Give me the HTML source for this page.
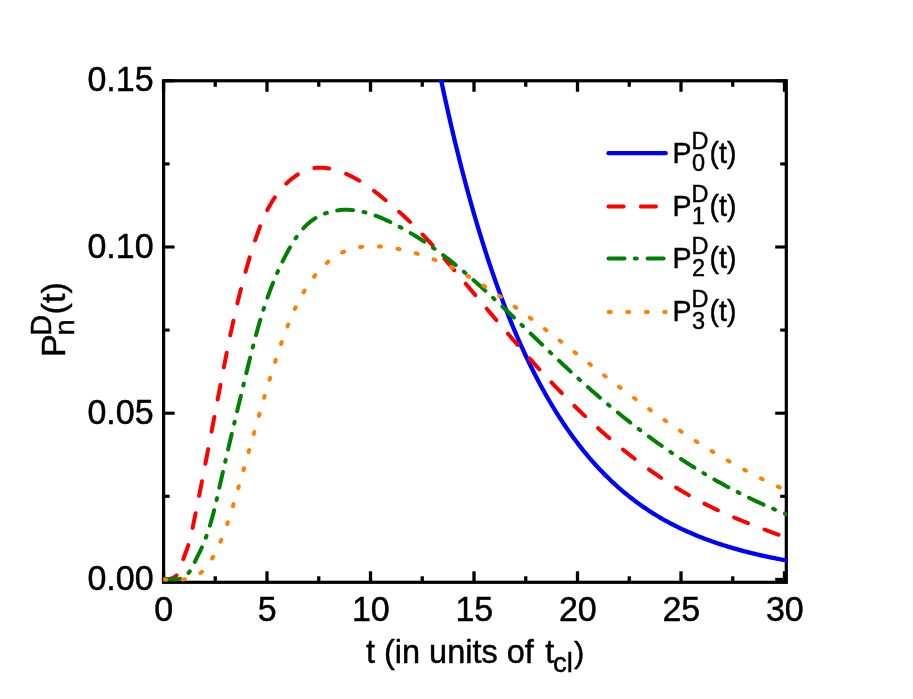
<!DOCTYPE html>
<html><head><meta charset="utf-8"><title>chart</title>
<style>
html,body{margin:0;padding:0;background:#fff;}
svg{display:block;}
text{font-family:"Liberation Sans",sans-serif;fill:#000;stroke:#000;stroke-width:0.45px;stroke-linejoin:round;}
svg{will-change:transform;}
</style></head><body>
<svg width="913" height="699" viewBox="0 0 913 699">
<rect width="913" height="699" fill="#fff"/>
<clipPath id="c"><rect x="163.2" y="79.95" width="623.9999999999999" height="502.04999999999995"/></clipPath>
<g stroke="#000" stroke-width="3.3" stroke-linecap="butt">
<line x1="163.50" y1="582.3" x2="163.50" y2="571.30"/><line x1="163.50" y1="80.75" x2="163.50" y2="91.75"/><line x1="215.25" y1="582.3" x2="215.25" y2="576.30"/><line x1="215.25" y1="80.75" x2="215.25" y2="86.75"/><line x1="267.00" y1="582.3" x2="267.00" y2="571.30"/><line x1="267.00" y1="80.75" x2="267.00" y2="91.75"/><line x1="318.75" y1="582.3" x2="318.75" y2="576.30"/><line x1="318.75" y1="80.75" x2="318.75" y2="86.75"/><line x1="370.50" y1="582.3" x2="370.50" y2="571.30"/><line x1="370.50" y1="80.75" x2="370.50" y2="91.75"/><line x1="422.25" y1="582.3" x2="422.25" y2="576.30"/><line x1="422.25" y1="80.75" x2="422.25" y2="86.75"/><line x1="474.00" y1="582.3" x2="474.00" y2="571.30"/><line x1="474.00" y1="80.75" x2="474.00" y2="91.75"/><line x1="525.75" y1="582.3" x2="525.75" y2="576.30"/><line x1="525.75" y1="80.75" x2="525.75" y2="86.75"/><line x1="577.50" y1="582.3" x2="577.50" y2="571.30"/><line x1="577.50" y1="80.75" x2="577.50" y2="91.75"/><line x1="629.25" y1="582.3" x2="629.25" y2="576.30"/><line x1="629.25" y1="80.75" x2="629.25" y2="86.75"/><line x1="681.00" y1="582.3" x2="681.00" y2="571.30"/><line x1="681.00" y1="80.75" x2="681.00" y2="91.75"/><line x1="732.75" y1="582.3" x2="732.75" y2="576.30"/><line x1="732.75" y1="80.75" x2="732.75" y2="86.75"/><line x1="784.50" y1="582.3" x2="784.50" y2="571.30"/><line x1="784.50" y1="80.75" x2="784.50" y2="91.75"/>
</g>
<g stroke="#000" stroke-width="3.1" stroke-linecap="butt">
<line x1="163.6" y1="579.40" x2="174.60" y2="579.40"/><line x1="786.3" y1="579.40" x2="775.20" y2="579.40"/><line x1="163.6" y1="496.30" x2="169.60" y2="496.30"/><line x1="786.3" y1="496.30" x2="780.20" y2="496.30"/><line x1="163.6" y1="413.20" x2="174.60" y2="413.20"/><line x1="786.3" y1="413.20" x2="775.20" y2="413.20"/><line x1="163.6" y1="330.10" x2="169.60" y2="330.10"/><line x1="786.3" y1="330.10" x2="780.20" y2="330.10"/><line x1="163.6" y1="247.00" x2="174.60" y2="247.00"/><line x1="786.3" y1="247.00" x2="775.20" y2="247.00"/><line x1="163.6" y1="163.90" x2="169.60" y2="163.90"/><line x1="786.3" y1="163.90" x2="780.20" y2="163.90"/><line x1="163.6" y1="80.80" x2="174.60" y2="80.80"/><line x1="786.3" y1="80.80" x2="775.20" y2="80.80"/>
</g>
<rect x="163.6" y="80.75" width="622.6999999999999" height="501.54999999999995" fill="none" stroke="#000" stroke-width="3.2"/>
<g clip-path="url(#c)">
<path d="M440.88,79.16 L442.62,87.32 L444.36,95.36 L446.10,103.26 L447.84,111.03 L449.58,118.68 L451.32,126.20 L453.05,133.60 L454.79,140.88 L456.53,148.04 L458.27,155.08 L460.01,162.01 L461.75,168.83 L463.49,175.53 L465.23,182.13 L466.97,188.62 L468.71,195.00 L470.45,201.28 L472.19,207.46 L473.93,213.54 L475.66,219.51 L477.40,225.40 L479.14,231.18 L480.88,236.87 L482.62,242.47 L484.36,247.98 L486.10,253.40 L487.84,258.73 L489.58,263.98 L491.32,269.14 L493.06,274.22 L494.80,279.21 L496.53,284.12 L498.27,288.96 L500.01,293.71 L501.75,298.39 L503.49,302.99 L505.23,307.52 L506.97,311.98 L508.71,316.36 L510.45,320.67 L512.19,324.91 L513.93,329.09 L515.67,333.20 L517.41,337.24 L519.14,341.21 L520.88,345.12 L522.62,348.97 L524.36,352.75 L526.10,356.48 L527.84,360.14 L529.58,363.75 L531.32,367.29 L533.06,370.78 L534.80,374.21 L536.54,377.59 L538.28,380.92 L540.02,384.18 L541.75,387.40 L543.49,390.57 L545.23,393.68 L546.97,396.74 L548.71,399.76 L550.45,402.72 L552.19,405.64 L553.93,408.51 L555.67,411.33 L557.41,414.11 L559.15,416.84 L560.89,419.53 L562.63,422.17 L564.36,424.77 L566.10,427.33 L567.84,429.85 L569.58,432.32 L571.32,434.76 L573.06,437.16 L574.80,439.51 L576.54,441.83 L578.28,444.11 L580.02,446.35 L581.76,448.56 L583.50,450.73 L585.23,452.86 L586.97,454.96 L588.71,457.03 L590.45,459.06 L592.19,461.05 L593.93,463.02 L595.67,464.95 L597.41,466.85 L599.15,468.72 L600.89,470.55 L602.63,472.36 L604.37,474.13 L606.11,475.88 L607.84,477.60 L609.58,479.28 L611.32,480.94 L613.06,482.57 L614.80,484.18 L616.54,485.76 L618.28,487.31 L620.02,488.83 L621.76,490.33 L623.50,491.80 L625.24,493.25 L626.98,494.67 L628.72,496.07 L630.45,497.45 L632.19,498.80 L633.93,500.13 L635.67,501.44 L637.41,502.72 L639.15,503.98 L640.89,505.22 L642.63,506.44 L644.37,507.64 L646.11,508.82 L647.85,509.98 L649.59,511.12 L651.33,512.23 L653.06,513.33 L654.80,514.41 L656.54,515.48 L658.28,516.52 L660.02,517.55 L661.76,518.56 L663.50,519.55 L665.24,520.52 L666.98,521.48 L668.72,522.42 L670.46,523.35 L672.20,524.26 L673.93,525.16 L675.67,526.04 L677.41,526.90 L679.15,527.75 L680.89,528.59 L682.63,529.41 L684.37,530.22 L686.11,531.01 L687.85,531.79 L689.59,532.56 L691.33,533.32 L693.07,534.06 L694.81,534.79 L696.54,535.51 L698.28,536.21 L700.02,536.91 L701.76,537.59 L703.50,538.27 L705.24,538.93 L706.98,539.58 L708.72,540.22 L710.46,540.85 L712.20,541.47 L713.94,542.07 L715.68,542.67 L717.42,543.26 L719.15,543.84 L720.89,544.41 L722.63,544.97 L724.37,545.53 L726.11,546.07 L727.85,546.60 L729.59,547.13 L731.33,547.65 L733.07,548.16 L734.81,548.66 L736.55,549.15 L738.29,549.64 L740.03,550.12 L741.76,550.59 L743.50,551.05 L745.24,551.50 L746.98,551.95 L748.72,552.39 L750.46,552.83 L752.20,553.25 L753.94,553.67 L755.68,554.09 L757.42,554.49 L759.16,554.90 L760.90,555.29 L762.63,555.68 L764.37,556.06 L766.11,556.44 L767.85,556.81 L769.59,557.17 L771.33,557.53 L773.07,557.88 L774.81,558.23 L776.55,558.57 L778.29,558.91 L780.03,559.24 L781.77,559.56 L783.51,559.88 L785.24,560.20 L786.98,560.51" fill="none" stroke="#0000ff" stroke-width="4.3" stroke-linecap="round" stroke-linejoin="round" />
<path d="M163.49,579.37 L165.60,579.32 L167.78,579.18 L169.96,578.86 L172.06,578.29 L173.98,577.42 L175.70,576.21 L177.18,574.73 L178.43,573.02 L179.43,571.12 L180.25,569.10 L180.93,567.02 L181.56,564.94 L182.16,562.88 L182.78,560.82 L183.44,558.79 L184.15,556.76 L184.88,554.75 L185.63,552.74 L186.38,550.73 L187.12,548.71 L187.83,546.69 L188.51,544.66 L189.13,542.61 L189.71,540.55 L190.25,538.48 L190.75,536.40 L191.23,534.31 L191.68,532.21 L192.12,530.11 L192.56,528.01 L192.99,525.90 L193.43,523.80 L193.86,521.70 L194.29,519.59 L194.72,517.49 L195.15,515.39 L195.58,513.28 L196.00,511.18 L196.43,509.07 L196.85,506.97 L197.28,504.86 L197.70,502.76 L198.12,500.65 L198.54,498.55 L198.96,496.44 L199.38,494.34 L199.80,492.23 L200.21,490.13 L200.63,488.02 L201.05,485.91 L201.46,483.81 L201.88,481.70 L202.29,479.59 L202.70,477.49 L203.11,475.38 L203.52,473.27 L203.94,471.17 L204.35,469.06 L204.75,466.95 L205.16,464.85 L205.57,462.74 L205.98,460.63 L206.39,458.52 L206.79,456.42 L207.20,454.31 L207.61,452.20 L208.01,450.09 L208.42,447.98 L208.82,445.88 L209.22,443.77 L209.63,441.66 L210.03,439.55 L210.44,437.44 L210.84,435.34 L211.24,433.23 L211.64,431.12 L212.05,429.01 L212.45,426.90 L212.85,424.80 L213.25,422.69 L213.65,420.58 L214.06,418.47 L214.46,416.36 L214.86,414.26 L215.26,412.15 L215.66,410.04 L216.06,407.93 L216.46,405.83 L216.87,403.72 L217.27,401.61 L217.67,399.50 L218.07,397.40 L218.47,395.29 L218.88,393.18 L219.28,391.07 L219.68,388.97 L220.08,386.86 L220.49,384.75 L220.89,382.65 L221.29,380.54 L221.70,378.43 L222.10,376.33 L222.51,374.22 L222.91,372.12 L223.32,370.01 L223.73,367.90 L224.14,365.80 L224.55,363.69 L224.96,361.59 L225.37,359.49 L225.79,357.38 L226.20,355.28 L226.62,353.18 L227.04,351.07 L227.46,348.97 L227.89,346.87 L228.31,344.77 L228.74,342.67 L229.17,340.57 L229.61,338.47 L230.05,336.37 L230.48,334.27 L230.93,332.18 L231.37,330.08 L231.82,327.98 L232.27,325.89 L232.73,323.79 L233.19,321.70 L233.65,319.61 L234.11,317.52 L234.58,315.42 L235.06,313.33 L235.54,311.24 L236.02,309.15 L236.50,307.07 L236.99,304.98 L237.49,302.89 L237.99,300.81 L238.49,298.73 L239.00,296.64 L239.51,294.56 L240.03,292.48 L240.56,290.40 L241.09,288.32 L241.62,286.24 L242.16,284.17 L242.71,282.09 L243.26,280.02 L243.82,277.95 L244.38,275.87 L244.95,273.80 L245.52,271.74 L246.10,269.67 L246.69,267.60 L247.29,265.54 L247.89,263.47 L248.49,261.41 L249.11,259.35 L249.73,257.29 L250.36,255.23 L250.99,253.18 L251.64,251.12 L252.29,249.07 L252.95,247.02 L253.61,244.97 L254.28,242.92 L254.96,240.87 L255.65,238.83 L256.35,236.79 L257.06,234.75 L257.78,232.72 L258.52,230.69 L259.27,228.67 L260.03,226.65 L260.81,224.65 L261.62,222.65 L262.44,220.67 L263.28,218.70 L264.15,216.74 L265.04,214.79 L265.95,212.86 L266.89,210.94 L267.87,209.04 L268.87,207.16 L269.90,205.30 L270.96,203.45 L272.06,201.63 L273.19,199.83 L274.36,198.05 L275.56,196.29 L276.80,194.56 L278.09,192.85 L279.42,191.17 L280.78,189.52 L282.20,187.90 L283.66,186.30 L285.16,184.74 L286.71,183.21 L288.31,181.72 L289.95,180.28 L291.63,178.88 L293.36,177.55 L295.12,176.27 L296.92,175.06 L298.75,173.92 L300.62,172.86 L302.52,171.88 L304.46,170.99 L306.42,170.20 L308.41,169.50 L310.43,168.91 L312.47,168.43 L314.54,168.06 L316.63,167.82 L318.74,167.68 L320.86,167.66 L322.99,167.74 L325.14,167.92 L327.28,168.19 L329.42,168.55 L331.57,168.98 L333.70,169.50 L335.82,170.08 L337.93,170.73 L340.02,171.44 L342.09,172.20 L344.14,173.02 L346.15,173.87 L348.14,174.76 L350.10,175.69 L352.02,176.66 L353.93,177.66 L355.80,178.69 L357.66,179.75 L359.49,180.85 L361.30,181.97 L363.09,183.12 L364.86,184.30 L366.61,185.50 L368.35,186.72 L370.07,187.96 L371.78,189.22 L373.48,190.50 L375.17,191.80 L376.85,193.11 L378.52,194.43 L380.18,195.77 L381.84,197.11 L383.49,198.47 L385.14,199.83 L386.79,201.20 L388.43,202.57 L390.07,203.96 L391.70,205.35 L393.34,206.75 L394.96,208.15 L396.58,209.57 L398.19,210.99 L399.80,212.42 L401.40,213.86 L402.99,215.30 L404.58,216.76 L406.15,218.22 L407.72,219.69 L409.28,221.17 L410.83,222.66 L412.37,224.16 L413.90,225.66 L415.42,227.17 L416.93,228.70 L418.44,230.23 L419.93,231.76 L421.42,233.31 L422.90,234.86 L424.38,236.41 L425.85,237.97 L427.31,239.54 L428.76,241.12 L430.21,242.70 L431.66,244.28 L433.09,245.87 L434.53,247.47 L435.95,249.07 L437.38,250.67 L438.80,252.28 L440.21,253.89 L441.62,255.50 L443.03,257.12 L444.44,258.74 L445.84,260.36 L447.24,261.99 L448.63,263.61 L450.03,265.24 L451.42,266.87 L452.81,268.50 L454.20,270.14 L455.59,271.77 L456.97,273.40 L458.36,275.04 L459.75,276.67 L461.13,278.31 L462.51,279.95 L463.90,281.59 L465.28,283.22 L466.66,284.86 L468.04,286.50 L469.42,288.14 L470.80,289.78 L472.18,291.42 L473.56,293.06 L474.94,294.70 L476.32,296.34 L477.70,297.98 L479.08,299.62 L480.46,301.26 L481.84,302.90 L483.22,304.54 L484.60,306.18 L485.98,307.82 L487.36,309.45 L488.74,311.09 L490.12,312.73 L491.51,314.37 L492.89,316.00 L494.27,317.64 L495.66,319.27 L497.04,320.91 L498.43,322.54 L499.82,324.17 L501.21,325.81 L502.60,327.44 L503.99,329.07 L505.38,330.69 L506.77,332.32 L508.17,333.95 L509.56,335.57 L510.96,337.20 L512.36,338.82 L513.76,340.44 L515.17,342.06 L516.57,343.68 L517.98,345.29 L519.39,346.91 L520.80,348.52 L522.21,350.13 L523.63,351.74 L525.05,353.35 L526.47,354.95 L527.89,356.55 L529.31,358.15 L530.74,359.75 L532.17,361.35 L533.60,362.95 L535.04,364.54 L536.48,366.13 L537.92,367.72 L539.36,369.30 L540.81,370.88 L542.26,372.46 L543.71,374.04 L545.17,375.62 L546.63,377.19 L548.09,378.76 L549.55,380.32 L551.02,381.89 L552.50,383.45 L553.97,385.01 L555.45,386.56 L556.94,388.11 L558.43,389.66 L559.92,391.21 L561.41,392.75 L562.91,394.29 L564.41,395.82 L565.92,397.35 L567.43,398.88 L568.94,400.40 L570.46,401.92 L571.98,403.44 L573.51,404.95 L575.03,406.46 L576.57,407.96 L578.11,409.46 L579.65,410.96 L581.19,412.45 L582.74,413.94 L584.29,415.42 L585.85,416.90 L587.41,418.37 L588.98,419.84 L590.55,421.31 L592.12,422.76 L593.70,424.22 L595.29,425.67 L596.87,427.11 L598.47,428.55 L600.06,429.99 L601.66,431.42 L603.27,432.84 L604.88,434.26 L606.49,435.67 L608.11,437.08 L609.73,438.48 L611.36,439.88 L612.99,441.27 L614.63,442.65 L616.27,444.03 L617.92,445.40 L619.57,446.77 L621.23,448.13 L622.89,449.49 L624.55,450.84 L626.22,452.18 L627.90,453.52 L629.58,454.84 L631.26,456.17 L632.95,457.48 L634.65,458.79 L636.35,460.10 L638.06,461.39 L639.77,462.68 L641.48,463.97 L643.20,465.24 L644.93,466.51 L646.66,467.77 L648.40,469.03 L650.14,470.27 L651.88,471.51 L653.64,472.75 L655.39,473.97 L657.16,475.19 L658.93,476.40 L660.70,477.60 L662.48,478.79 L664.26,479.98 L666.05,481.16 L667.85,482.33 L669.65,483.49 L671.46,484.64 L673.27,485.79 L675.09,486.93 L676.91,488.05 L678.74,489.17 L680.57,490.29 L682.41,491.39 L684.26,492.48 L686.11,493.57 L687.96,494.64 L689.82,495.71 L691.69,496.76 L693.56,497.81 L695.44,498.85 L697.32,499.87 L699.20,500.89 L701.10,501.90 L703.00,502.90 L704.90,503.89 L706.81,504.86 L708.72,505.83 L710.64,506.79 L712.56,507.73 L714.49,508.67 L716.43,509.60 L718.37,510.51 L720.31,511.41 L722.26,512.31 L724.22,513.19 L726.18,514.06 L728.14,514.93 L730.11,515.78 L732.08,516.62 L734.06,517.46 L736.04,518.29 L738.02,519.11 L740.00,519.93 L741.99,520.74 L743.98,521.54 L745.98,522.33 L747.97,523.12 L749.97,523.91 L751.97,524.69 L753.97,525.46 L755.98,526.23 L757.98,527.00 L759.98,527.76 L761.99,528.53 L764.00,529.28 L766.00,530.04 L768.01,530.80 L770.01,531.55 L772.02,532.30 L774.03,533.05 L776.03,533.80 L778.03,534.55 L780.04,535.31 L782.04,536.06 L784.04,536.81 L786.03,537.57" fill="none" stroke="#ff0000" stroke-width="4.0" stroke-linecap="round" stroke-linejoin="round" stroke-dasharray="14.9 17.8" stroke-dashoffset="0.87"/>
<path d="M163.50,579.39 L165.40,579.23 L167.36,579.20 L169.37,579.25 L171.41,579.32 L173.45,579.38 L175.49,579.35 L177.48,579.20 L179.43,578.86 L181.31,578.30 L183.10,577.48 L184.78,576.44 L186.34,575.21 L187.77,573.83 L189.04,572.31 L190.19,570.69 L191.23,568.99 L192.19,567.22 L193.09,565.42 L193.97,563.60 L194.85,561.79 L195.74,559.99 L196.62,558.21 L197.51,556.43 L198.39,554.66 L199.27,552.88 L200.13,551.11 L200.97,549.33 L201.79,547.54 L202.59,545.74 L203.36,543.93 L204.12,542.11 L204.85,540.29 L205.55,538.45 L206.24,536.60 L206.91,534.75 L207.56,532.88 L208.19,531.01 L208.81,529.13 L209.41,527.24 L209.99,525.35 L210.56,523.45 L211.11,521.55 L211.65,519.64 L212.18,517.72 L212.70,515.80 L213.20,513.88 L213.70,511.95 L214.18,510.01 L214.66,508.08 L215.13,506.14 L215.59,504.20 L216.05,502.25 L216.50,500.31 L216.95,498.36 L217.39,496.41 L217.83,494.46 L218.27,492.51 L218.71,490.57 L219.14,488.62 L219.58,486.67 L220.02,484.72 L220.45,482.78 L220.89,480.83 L221.33,478.89 L221.77,476.95 L222.21,475.01 L222.65,473.07 L223.10,471.13 L223.54,469.19 L223.98,467.25 L224.43,465.31 L224.87,463.38 L225.32,461.44 L225.76,459.51 L226.21,457.58 L226.66,455.64 L227.10,453.71 L227.55,451.78 L228.00,449.85 L228.45,447.92 L228.90,445.99 L229.36,444.06 L229.81,442.13 L230.26,440.20 L230.71,438.27 L231.17,436.35 L231.62,434.42 L232.08,432.49 L232.53,430.56 L232.99,428.64 L233.44,426.71 L233.90,424.79 L234.36,422.86 L234.82,420.94 L235.27,419.01 L235.73,417.09 L236.19,415.16 L236.65,413.24 L237.11,411.31 L237.58,409.39 L238.04,407.46 L238.50,405.54 L238.96,403.62 L239.43,401.69 L239.89,399.77 L240.35,397.84 L240.82,395.92 L241.28,393.99 L241.75,392.07 L242.21,390.14 L242.68,388.21 L243.15,386.29 L243.61,384.36 L244.08,382.44 L244.55,380.51 L245.02,378.58 L245.48,376.65 L245.95,374.72 L246.42,372.80 L246.89,370.87 L247.36,368.94 L247.83,367.01 L248.31,365.08 L248.78,363.15 L249.26,361.22 L249.73,359.29 L250.21,357.36 L250.69,355.43 L251.18,353.50 L251.66,351.57 L252.15,349.64 L252.65,347.72 L253.14,345.79 L253.64,343.87 L254.15,341.94 L254.65,340.02 L255.16,338.10 L255.68,336.18 L256.20,334.26 L256.73,332.34 L257.26,330.43 L257.79,328.51 L258.33,326.60 L258.88,324.69 L259.43,322.79 L259.99,320.88 L260.56,318.98 L261.13,317.08 L261.71,315.18 L262.30,313.28 L262.89,311.39 L263.49,309.50 L264.10,307.61 L264.71,305.73 L265.34,303.85 L265.97,301.97 L266.61,300.09 L267.26,298.22 L267.92,296.36 L268.59,294.49 L269.27,292.63 L269.96,290.77 L270.65,288.92 L271.36,287.07 L272.08,285.23 L272.81,283.39 L273.55,281.55 L274.30,279.72 L275.06,277.89 L275.83,276.07 L276.62,274.25 L277.41,272.44 L278.22,270.63 L279.04,268.82 L279.87,267.03 L280.72,265.23 L281.58,263.44 L282.45,261.66 L283.34,259.88 L284.23,258.11 L285.15,256.35 L286.07,254.59 L287.01,252.83 L287.97,251.08 L288.94,249.34 L289.92,247.61 L290.93,245.88 L291.94,244.16 L292.98,242.45 L294.04,240.77 L295.13,239.09 L296.24,237.44 L297.37,235.82 L298.54,234.22 L299.74,232.65 L300.97,231.11 L302.24,229.60 L303.54,228.14 L304.88,226.71 L306.27,225.33 L307.69,223.99 L309.17,222.70 L310.68,221.46 L312.25,220.28 L313.87,219.15 L315.54,218.08 L317.27,217.07 L319.04,216.13 L320.86,215.24 L322.72,214.43 L324.62,213.67 L326.54,212.98 L328.49,212.36 L330.46,211.80 L332.44,211.31 L334.43,210.89 L336.43,210.53 L338.42,210.24 L340.41,210.02 L342.39,209.87 L344.37,209.78 L346.34,209.75 L348.30,209.79 L350.26,209.88 L352.21,210.03 L354.15,210.23 L356.09,210.49 L358.02,210.79 L359.94,211.15 L361.86,211.55 L363.77,211.99 L365.67,212.48 L367.57,213.01 L369.46,213.58 L371.34,214.18 L373.21,214.82 L375.08,215.49 L376.94,216.19 L378.79,216.92 L380.63,217.68 L382.47,218.46 L384.30,219.27 L386.11,220.09 L387.92,220.93 L389.73,221.79 L391.52,222.67 L393.31,223.56 L395.08,224.46 L396.85,225.37 L398.61,226.30 L400.37,227.23 L402.11,228.18 L403.85,229.15 L405.58,230.12 L407.30,231.10 L409.01,232.10 L410.72,233.11 L412.42,234.12 L414.11,235.15 L415.79,236.19 L417.47,237.24 L419.14,238.30 L420.80,239.37 L422.46,240.45 L424.11,241.54 L425.75,242.64 L427.39,243.75 L429.02,244.86 L430.65,245.99 L432.26,247.13 L433.88,248.27 L435.48,249.42 L437.08,250.58 L438.68,251.75 L440.27,252.93 L441.85,254.12 L443.43,255.31 L445.00,256.51 L446.57,257.72 L448.13,258.93 L449.69,260.15 L451.24,261.38 L452.79,262.62 L454.33,263.86 L455.87,265.11 L457.40,266.36 L458.93,267.62 L460.46,268.89 L461.98,270.16 L463.49,271.44 L465.00,272.72 L466.51,274.01 L468.02,275.30 L469.52,276.60 L471.02,277.90 L472.51,279.20 L474.00,280.51 L475.49,281.83 L476.97,283.15 L478.45,284.47 L479.93,285.80 L481.40,287.13 L482.87,288.46 L484.34,289.79 L485.81,291.13 L487.27,292.47 L488.74,293.82 L490.19,295.16 L491.65,296.51 L493.11,297.86 L494.56,299.21 L496.01,300.57 L497.46,301.92 L498.91,303.28 L500.35,304.64 L501.80,306.00 L503.24,307.36 L504.68,308.72 L506.12,310.09 L507.56,311.45 L509.00,312.82 L510.43,314.19 L511.87,315.56 L513.30,316.93 L514.73,318.30 L516.17,319.67 L517.60,321.04 L519.03,322.42 L520.46,323.79 L521.89,325.16 L523.31,326.54 L524.74,327.91 L526.17,329.28 L527.60,330.66 L529.03,332.03 L530.45,333.41 L531.88,334.78 L533.31,336.16 L534.74,337.53 L536.17,338.91 L537.59,340.28 L539.02,341.65 L540.45,343.03 L541.88,344.40 L543.31,345.77 L544.74,347.14 L546.18,348.51 L547.61,349.88 L549.04,351.25 L550.48,352.62 L551.91,353.98 L553.35,355.35 L554.79,356.71 L556.22,358.07 L557.67,359.43 L559.11,360.79 L560.55,362.15 L562.00,363.51 L563.44,364.86 L564.89,366.21 L566.34,367.56 L567.79,368.91 L569.25,370.26 L570.70,371.61 L572.16,372.95 L573.62,374.29 L575.09,375.63 L576.55,376.96 L578.02,378.30 L579.49,379.63 L580.96,380.95 L582.44,382.28 L583.92,383.60 L585.40,384.92 L586.88,386.24 L588.37,387.56 L589.85,388.87 L591.34,390.18 L592.84,391.48 L594.33,392.79 L595.83,394.09 L597.33,395.38 L598.84,396.68 L600.34,397.97 L601.85,399.26 L603.37,400.54 L604.88,401.83 L606.40,403.11 L607.92,404.38 L609.44,405.65 L610.97,406.92 L612.49,408.19 L614.03,409.45 L615.56,410.71 L617.10,411.97 L618.64,413.22 L620.18,414.47 L621.72,415.71 L623.27,416.95 L624.82,418.19 L626.37,419.43 L627.93,420.66 L629.49,421.89 L631.05,423.11 L632.61,424.33 L634.18,425.54 L635.75,426.76 L637.33,427.96 L638.90,429.17 L640.48,430.37 L642.06,431.56 L643.65,432.76 L645.23,433.94 L646.82,435.13 L648.42,436.31 L650.01,437.48 L651.61,438.65 L653.22,439.82 L654.82,440.98 L656.43,442.14 L658.04,443.30 L659.66,444.45 L661.27,445.59 L662.89,446.73 L664.52,447.87 L666.14,449.00 L667.77,450.13 L669.41,451.25 L671.04,452.37 L672.68,453.48 L674.32,454.59 L675.97,455.69 L677.61,456.79 L679.26,457.89 L680.92,458.98 L682.58,460.06 L684.24,461.14 L685.90,462.22 L687.57,463.29 L689.24,464.35 L690.91,465.41 L692.59,466.46 L694.27,467.51 L695.95,468.56 L697.63,469.60 L699.32,470.63 L701.02,471.66 L702.71,472.68 L704.41,473.70 L706.11,474.71 L707.82,475.72 L709.53,476.72 L711.24,477.72 L712.95,478.71 L714.67,479.69 L716.39,480.67 L718.12,481.64 L719.85,482.61 L721.58,483.57 L723.31,484.53 L725.05,485.48 L726.79,486.43 L728.54,487.37 L730.29,488.30 L732.04,489.23 L733.79,490.15 L735.55,491.06 L737.31,491.97 L739.08,492.88 L740.85,493.77 L742.62,494.66 L744.40,495.55 L746.18,496.43 L747.96,497.30 L749.75,498.16 L751.53,499.02 L753.33,499.88 L755.12,500.72 L756.93,501.57 L758.73,502.40 L760.54,503.23 L762.35,504.05 L764.16,504.86 L765.98,505.67 L767.80,506.47 L769.63,507.27 L771.45,508.05 L773.29,508.84 L775.12,509.61 L776.96,510.38 L778.81,511.14 L780.65,511.89 L782.50,512.64 L784.36,513.38 L786.21,514.11" fill="none" stroke="#008000" stroke-width="4.0" stroke-linecap="round" stroke-linejoin="round" stroke-dasharray="16 10.5 2 10.71" stroke-dashoffset="-0.62"/>
<path d="M163.48,579.38 L165.18,579.57 L166.93,579.74 L168.72,579.87 L170.54,579.97 L172.39,580.03 L174.26,580.05 L176.15,580.02 L178.04,579.94 L179.94,579.81 L181.84,579.62 L183.72,579.37 L185.59,579.06 L187.44,578.68 L189.26,578.23 L191.05,577.70 L192.80,577.10 L194.50,576.42 L196.14,575.65 L197.73,574.80 L199.26,573.85 L200.71,572.81 L202.10,571.67 L203.41,570.45 L204.67,569.16 L205.86,567.80 L207.00,566.37 L208.10,564.89 L209.14,563.37 L210.15,561.81 L211.13,560.23 L212.07,558.62 L212.99,557.00 L213.89,555.38 L214.76,553.74 L215.61,552.10 L216.45,550.45 L217.26,548.79 L218.05,547.13 L218.82,545.46 L219.58,543.78 L220.32,542.10 L221.04,540.41 L221.74,538.72 L222.43,537.02 L223.11,535.32 L223.77,533.61 L224.42,531.90 L225.05,530.18 L225.68,528.46 L226.29,526.73 L226.89,525.00 L227.48,523.27 L228.07,521.54 L228.64,519.80 L229.21,518.06 L229.77,516.32 L230.32,514.57 L230.87,512.82 L231.41,511.08 L231.95,509.33 L232.48,507.58 L233.01,505.82 L233.54,504.07 L234.07,502.32 L234.60,500.57 L235.12,498.81 L235.64,497.06 L236.17,495.31 L236.69,493.55 L237.20,491.80 L237.72,490.04 L238.24,488.29 L238.75,486.53 L239.26,484.78 L239.77,483.02 L240.28,481.26 L240.79,479.51 L241.30,477.75 L241.81,475.99 L242.31,474.23 L242.82,472.47 L243.32,470.72 L243.83,468.96 L244.33,467.20 L244.83,465.44 L245.34,463.68 L245.84,461.92 L246.34,460.16 L246.84,458.40 L247.34,456.64 L247.84,454.88 L248.34,453.12 L248.83,451.36 L249.33,449.60 L249.83,447.83 L250.33,446.07 L250.83,444.31 L251.33,442.55 L251.83,440.79 L252.32,439.03 L252.82,437.26 L253.32,435.50 L253.82,433.74 L254.32,431.98 L254.82,430.21 L255.32,428.45 L255.82,426.69 L256.33,424.93 L256.83,423.16 L257.33,421.40 L257.83,419.64 L258.34,417.87 L258.84,416.11 L259.35,414.35 L259.86,412.58 L260.36,410.82 L260.87,409.06 L261.38,407.29 L261.89,405.53 L262.41,403.77 L262.92,402.01 L263.44,400.24 L263.95,398.48 L264.47,396.72 L264.99,394.95 L265.51,393.19 L266.03,391.43 L266.56,389.67 L267.08,387.90 L267.61,386.14 L268.14,384.38 L268.67,382.62 L269.20,380.86 L269.74,379.11 L270.28,377.35 L270.82,375.59 L271.36,373.84 L271.90,372.08 L272.45,370.33 L273.00,368.58 L273.55,366.83 L274.10,365.08 L274.66,363.33 L275.22,361.59 L275.78,359.85 L276.35,358.11 L276.92,356.37 L277.49,354.63 L278.06,352.90 L278.64,351.16 L279.22,349.43 L279.81,347.71 L280.39,345.98 L280.98,344.26 L281.58,342.54 L282.18,340.82 L282.78,339.11 L283.39,337.40 L284.00,335.69 L284.62,333.99 L285.24,332.29 L285.87,330.59 L286.51,328.89 L287.16,327.20 L287.81,325.51 L288.48,323.83 L289.15,322.14 L289.83,320.46 L290.53,318.79 L291.23,317.12 L291.95,315.45 L292.68,313.78 L293.42,312.12 L294.17,310.46 L294.94,308.81 L295.73,307.16 L296.52,305.51 L297.34,303.87 L298.17,302.23 L299.01,300.60 L299.87,298.97 L300.75,297.34 L301.65,295.72 L302.57,294.10 L303.51,292.48 L304.46,290.87 L305.44,289.27 L306.43,287.67 L307.45,286.08 L308.49,284.50 L309.54,282.93 L310.62,281.38 L311.72,279.84 L312.83,278.32 L313.97,276.81 L315.13,275.32 L316.31,273.86 L317.51,272.42 L318.73,271.00 L319.97,269.61 L321.24,268.24 L322.52,266.90 L323.82,265.60 L325.15,264.32 L326.50,263.08 L327.87,261.88 L329.26,260.71 L330.67,259.58 L332.11,258.49 L333.57,257.44 L335.04,256.44 L336.55,255.47 L338.07,254.56 L339.61,253.69 L341.18,252.87 L342.77,252.11 L344.38,251.39 L346.02,250.73 L347.67,250.12 L349.34,249.56 L351.04,249.04 L352.75,248.57 L354.47,248.15 L356.22,247.78 L357.97,247.45 L359.74,247.16 L361.53,246.91 L363.33,246.70 L365.13,246.54 L366.95,246.41 L368.78,246.32 L370.61,246.26 L372.45,246.24 L374.30,246.25 L376.15,246.30 L378.01,246.38 L379.87,246.48 L381.73,246.62 L383.59,246.79 L385.45,246.98 L387.31,247.20 L389.17,247.44 L391.03,247.71 L392.88,248.00 L394.73,248.31 L396.58,248.64 L398.41,248.99 L400.24,249.36 L402.06,249.74 L403.88,250.15 L405.69,250.57 L407.49,251.00 L409.28,251.46 L411.06,251.93 L412.84,252.42 L414.62,252.93 L416.38,253.45 L418.14,253.98 L419.89,254.53 L421.63,255.10 L423.37,255.68 L425.11,256.28 L426.83,256.89 L428.55,257.52 L430.26,258.16 L431.97,258.82 L433.67,259.48 L435.37,260.16 L437.05,260.86 L438.74,261.57 L440.41,262.29 L442.09,263.02 L443.75,263.77 L445.41,264.52 L447.07,265.29 L448.72,266.07 L450.36,266.86 L452.00,267.67 L453.63,268.48 L455.26,269.31 L456.89,270.14 L458.51,270.99 L460.12,271.84 L461.73,272.71 L463.33,273.58 L464.93,274.46 L466.53,275.36 L468.12,276.26 L469.70,277.17 L471.29,278.09 L472.86,279.01 L474.44,279.95 L476.01,280.89 L477.57,281.84 L479.13,282.79 L480.69,283.76 L482.25,284.73 L483.80,285.70 L485.34,286.68 L486.89,287.67 L488.43,288.67 L489.96,289.67 L491.49,290.67 L493.02,291.68 L494.55,292.69 L496.07,293.71 L497.59,294.74 L499.11,295.76 L500.62,296.80 L502.14,297.83 L503.64,298.87 L505.15,299.91 L506.65,300.96 L508.15,302.01 L509.65,303.06 L511.15,304.12 L512.64,305.18 L514.13,306.24 L515.62,307.31 L517.11,308.37 L518.59,309.45 L520.07,310.52 L521.55,311.60 L523.03,312.68 L524.51,313.76 L525.98,314.85 L527.45,315.94 L528.92,317.03 L530.39,318.12 L531.86,319.21 L533.32,320.31 L534.79,321.41 L536.25,322.51 L537.71,323.62 L539.17,324.72 L540.62,325.83 L542.08,326.94 L543.54,328.05 L544.99,329.17 L546.44,330.28 L547.89,331.40 L549.34,332.51 L550.79,333.63 L552.24,334.75 L553.69,335.87 L555.14,337.00 L556.58,338.12 L558.03,339.25 L559.47,340.37 L560.92,341.50 L562.36,342.63 L563.80,343.76 L565.24,344.88 L566.69,346.01 L568.13,347.14 L569.57,348.28 L571.01,349.41 L572.45,350.54 L573.89,351.67 L575.33,352.80 L576.78,353.93 L578.22,355.06 L579.66,356.20 L581.10,357.33 L582.54,358.46 L583.98,359.59 L585.43,360.72 L586.87,361.85 L588.31,362.98 L589.76,364.11 L591.20,365.24 L592.64,366.37 L594.09,367.50 L595.54,368.62 L596.98,369.75 L598.43,370.88 L599.88,372.00 L601.33,373.12 L602.78,374.25 L604.23,375.37 L605.68,376.49 L607.13,377.61 L608.58,378.73 L610.03,379.85 L611.49,380.96 L612.94,382.08 L614.40,383.19 L615.85,384.31 L617.31,385.42 L618.77,386.53 L620.23,387.64 L621.69,388.75 L623.15,389.85 L624.62,390.96 L626.08,392.06 L627.54,393.16 L629.01,394.26 L630.48,395.36 L631.95,396.46 L633.41,397.55 L634.88,398.65 L636.36,399.74 L637.83,400.83 L639.30,401.92 L640.78,403.00 L642.26,404.09 L643.73,405.17 L645.21,406.25 L646.70,407.33 L648.18,408.40 L649.66,409.48 L651.15,410.55 L652.63,411.62 L654.12,412.69 L655.61,413.75 L657.10,414.82 L658.60,415.88 L660.09,416.93 L661.59,417.99 L663.08,419.04 L664.58,420.09 L666.08,421.14 L667.59,422.19 L669.09,423.23 L670.60,424.27 L672.10,425.31 L673.61,426.34 L675.12,427.38 L676.64,428.41 L678.15,429.43 L679.67,430.46 L681.19,431.48 L682.71,432.49 L684.23,433.51 L685.75,434.52 L687.28,435.53 L688.81,436.53 L690.34,437.54 L691.87,438.54 L693.41,439.53 L694.94,440.52 L696.48,441.51 L698.02,442.50 L699.56,443.48 L701.11,444.46 L702.66,445.44 L704.21,446.41 L705.76,447.38 L707.31,448.34 L708.87,449.30 L710.43,450.26 L711.99,451.22 L713.55,452.17 L715.12,453.11 L716.68,454.06 L718.25,455.00 L719.83,455.93 L721.40,456.86 L722.98,457.79 L724.56,458.71 L726.14,459.63 L727.73,460.55 L729.32,461.46 L730.91,462.37 L732.50,463.27 L734.09,464.17 L735.69,465.06 L737.29,465.95 L738.90,466.84 L740.50,467.72 L742.11,468.60 L743.72,469.47 L745.34,470.34 L746.96,471.20 L748.58,472.06 L750.20,472.91 L751.82,473.76 L753.45,474.61 L755.09,475.45 L756.72,476.28 L758.36,477.11 L760.00,477.94 L761.64,478.76 L763.29,479.58 L764.94,480.39 L766.59,481.19 L768.25,481.99 L769.91,482.79 L771.57,483.58 L773.23,484.37 L774.90,485.15 L776.57,485.92 L778.25,486.69 L779.92,487.46 L781.61,488.22 L783.29,488.97 L784.98,489.72 L786.67,490.46" fill="none" stroke="#ff8000" stroke-width="4.0" stroke-linecap="round" stroke-linejoin="round" stroke-dasharray="2 16.8" stroke-dashoffset="-0.77"/>
</g>
<g><text transform="translate(163.80,620.50) scale(1,1.05)" font-size="34" text-anchor="middle" >0</text><text transform="translate(267.30,620.50) scale(1,1.05)" font-size="34" text-anchor="middle" >5</text><text transform="translate(370.80,620.50) scale(1,1.05)" font-size="34" text-anchor="middle" >10</text><text transform="translate(474.30,620.50) scale(1,1.05)" font-size="34" text-anchor="middle" >15</text><text transform="translate(577.80,620.50) scale(1,1.05)" font-size="34" text-anchor="middle" >20</text><text transform="translate(681.30,620.50) scale(1,1.05)" font-size="34" text-anchor="middle" >25</text><text transform="translate(784.80,620.50) scale(1,1.05)" font-size="34" text-anchor="middle" >30</text><text transform="translate(153.60,589.90) scale(1,1.05)" font-size="34" text-anchor="end" >0.00</text><text transform="translate(153.60,423.70) scale(1,1.05)" font-size="34" text-anchor="end" >0.05</text><text transform="translate(153.60,257.50) scale(1,1.05)" font-size="34" text-anchor="end" >0.10</text><text transform="translate(153.60,91.30) scale(1,1.05)" font-size="34" text-anchor="end" >0.15</text></g>
<g><line x1="608.5" y1="153.2" x2="665.7" y2="153.2" stroke="#0000ff" stroke-width="4.3" stroke-linecap="round" /><text transform="translate(672.60,162.60) scale(1,1.04)" font-size="28.5" text-anchor="start" >P</text><text transform="translate(691.60,148.60) scale(1,1.04)" font-size="23.5" text-anchor="start" >D</text><text transform="translate(691.90,170.90) scale(1,1.04)" font-size="23.5" text-anchor="start" >0</text><text transform="translate(709.60,162.60) scale(1,1.04)" font-size="28.5" text-anchor="start" >(t)</text><line x1="608.5" y1="206.4" x2="665.7" y2="206.4" stroke="#ff0000" stroke-width="4.0" stroke-linecap="round" stroke-dasharray="15.1 17.3"/><text transform="translate(672.60,215.90) scale(1,1.04)" font-size="28.5" text-anchor="start" >P</text><text transform="translate(691.60,201.90) scale(1,1.04)" font-size="23.5" text-anchor="start" >D</text><text transform="translate(691.90,224.20) scale(1,1.04)" font-size="23.5" text-anchor="start" >1</text><text transform="translate(709.60,215.90) scale(1,1.04)" font-size="28.5" text-anchor="start" >(t)</text><line x1="608.5" y1="258.6" x2="665.7" y2="258.6" stroke="#008000" stroke-width="4.0" stroke-linecap="round" stroke-dasharray="16 10.3 2 10.8"/><text transform="translate(672.60,267.80) scale(1,1.04)" font-size="28.5" text-anchor="start" >P</text><text transform="translate(691.60,253.80) scale(1,1.04)" font-size="23.5" text-anchor="start" >D</text><text transform="translate(691.90,276.10) scale(1,1.04)" font-size="23.5" text-anchor="start" >2</text><text transform="translate(709.60,267.80) scale(1,1.04)" font-size="28.5" text-anchor="start" >(t)</text><line x1="608.5" y1="312.1" x2="665.7" y2="312.1" stroke="#ff8000" stroke-width="4.0" stroke-linecap="round" stroke-dasharray="2 16.5" stroke-dashoffset="-0.3"/><text transform="translate(672.60,321.10) scale(1,1.04)" font-size="28.5" text-anchor="start" >P</text><text transform="translate(691.60,307.10) scale(1,1.04)" font-size="23.5" text-anchor="start" >D</text><text transform="translate(691.90,329.40) scale(1,1.04)" font-size="23.5" text-anchor="start" >3</text><text transform="translate(709.60,321.10) scale(1,1.04)" font-size="28.5" text-anchor="start" >(t)</text></g>
<g>
<text transform="translate(365.90,663.20) scale(1,1.0)" font-size="32.5" text-anchor="start" >t (in units of</text>
<text transform="translate(554.40,663.20) scale(1,1.0)" font-size="32.5" text-anchor="end" >t</text>
<text transform="translate(553.00,671.70) scale(1,1.0)" font-size="27.5" text-anchor="start" >cl</text>
<text transform="translate(573.90,662.60) scale(1,0.98)" font-size="31" text-anchor="start" >)</text>
</g>
<g transform="translate(64.8,357.5) rotate(-90)">
<text transform="translate(0.50,0.00) scale(1.05,1.04)" font-size="32.5" text-anchor="start" >P</text>
<text transform="translate(21.70,-13.50) scale(1.05,1.05)" font-size="27.5" text-anchor="start" >D</text>
<text transform="translate(22.10,9.30) scale(1.05,1.0)" font-size="27.5" text-anchor="start" >n</text>
<text transform="translate(43.10,0.00) scale(1.05,1.04)" font-size="32.5" text-anchor="start" >(t)</text>
</g>
</svg>
</body></html>
